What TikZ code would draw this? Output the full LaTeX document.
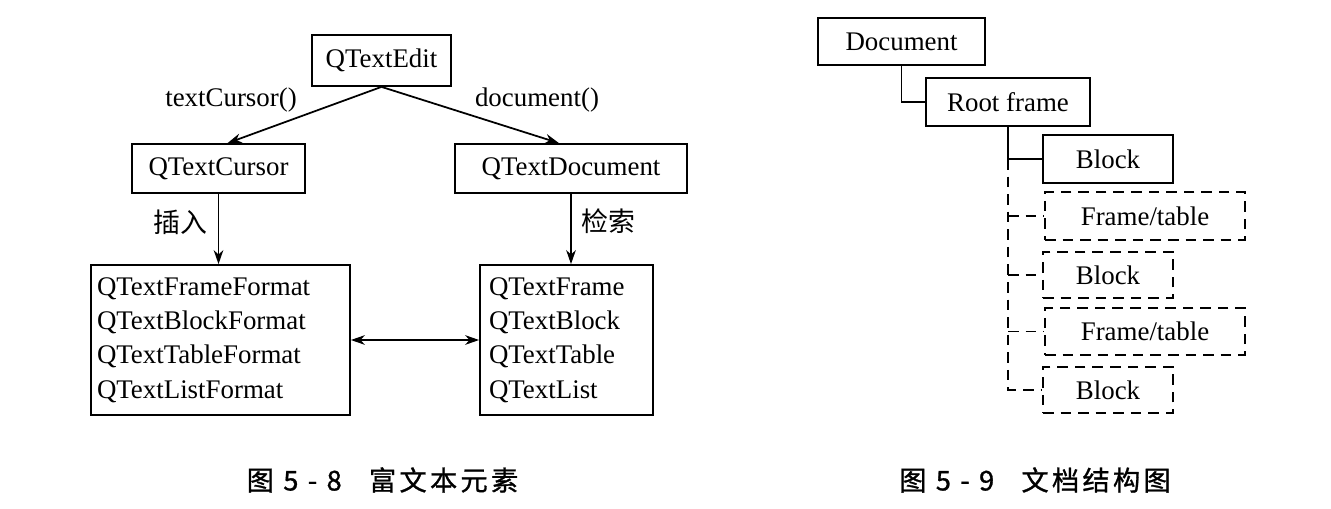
\documentclass[tikz,border=0pt]{standalone}
\usepackage{fontspec}
\setmainfont{Liberation Serif}
\newfontfamily\cjk{Noto Sans CJK SC}
\newfontfamily\capcjk[LetterSpace=12,FakeBold=1]{Noto Sans CJK SC}
\usetikzlibrary{arrows.meta}

\begin{document}
\begin{tikzpicture}[
  every node/.style={font=\fontsize{15.3}{19.5}\selectfont},
  box/.style={draw,line width=1pt,inner sep=0pt},
  dbox/.style={box,dash pattern=on 6pt off 4pt},
  link/.style={line width=1pt},
  dlink/.style={link,dash pattern=on 6pt off 4pt},
  arr/.style={line width=1pt,-{Stealth[length=8pt,width=5.5pt]}},
  darr/.style={line width=1pt,{Stealth[length=8pt,width=5.5pt]}-{Stealth[length=8pt,width=5.5pt]}},
  cjklabel/.style={font=\fontsize{15.3}{18}\cjk},
  caption/.style={font=\fontsize{15.5}{18}\capcjk}
]
\useasboundingbox (0,0) rectangle (26.62,-10.16);

\node[box,minimum width=2.78cm,minimum height=1.02cm] (QTextEdit) at (7.63,-1.21) {QTextEdit};
\node[box,minimum width=3.46cm,minimum height=0.98cm] (QTextCursor) at (4.37,-3.37) {QTextCursor};
\node[box,minimum width=4.64cm,minimum height=0.98cm] (QTextDocument) at (11.42,-3.37) {QTextDocument};
\node[box,minimum height=3.00cm,text width=4.94cm,inner xsep=0.12cm,align=left] (formats) at (4.41,-6.80) {QTextFrameFormat\\QTextBlockFormat\\QTextTableFormat\\QTextListFormat};
\node[box,minimum height=3.00cm,text width=3.10cm,inner xsep=0.18cm,align=left] (objects) at (11.33,-6.80) {QTextFrame\\QTextBlock\\QTextTable\\QTextList};

\node (textCursor) at (4.62,-2.00) {textCursor()};
\node (document) at (10.74,-2.00) {document()};
\node[cjklabel] (insert) at (3.60,-4.44) {插入};
\node[cjklabel] (search) at (12.16,-4.42) {检索};

\draw[arr] (QTextEdit.south) -- ([xshift=0.18cm]QTextCursor.north);
\draw[arr] (QTextEdit.south) -- ([xshift=-0.24cm]QTextDocument.north);
\draw[arr] (QTextCursor.south) -- (QTextCursor.south |- formats.north);
\draw[arr] (QTextDocument.south) -- (QTextDocument.south |- objects.north);
\draw[darr] (formats.east) -- (objects.west);

\node[caption] (fig58) at (7.65,-9.60) {图 5 - 8\quad 富文本元素};

\node[box,minimum width=3.34cm,minimum height=0.94cm] (Document) at (18.03,-0.83) {Document};
\node[box,minimum width=3.28cm,minimum height=0.96cm] (Rootframe) at (20.16,-2.04) {Root frame};
\node[box,minimum width=2.60cm,minimum height=0.96cm] (Block1) at (22.16,-3.18) {Block};
\node[dbox,minimum width=4.00cm,minimum height=0.96cm] (Frametable1) at (22.90,-4.32) {Frame/table};
\node[dbox,minimum width=2.60cm,minimum height=0.92cm] (Block2) at (22.16,-5.50) {Block};
\node[dbox,minimum width=4.00cm,minimum height=0.94cm] (Frametable2) at (22.90,-6.63) {Frame/table};
\node[dbox,minimum width=2.60cm,minimum height=0.92cm] (Block3) at (22.16,-7.80) {Block};

\draw[link] (Document.south) |- (Rootframe.west);
\draw[link] (Rootframe.south) |- (Block1.west);
\draw[dlink] (Rootframe.south |- Block1.west) |- (Block3.west);
\draw[dlink] (Rootframe.south |- Frametable1.west) -- (Frametable1.west);
\draw[dlink] (Rootframe.south |- Block2.west) -- (Block2.west);
\draw[dlink] (Rootframe.south |- Frametable2.west) -- (Frametable2.west);

\node[caption] (fig59) at (20.70,-9.60) {图 5 - 9\quad 文档结构图};
\end{tikzpicture}
\end{document}
